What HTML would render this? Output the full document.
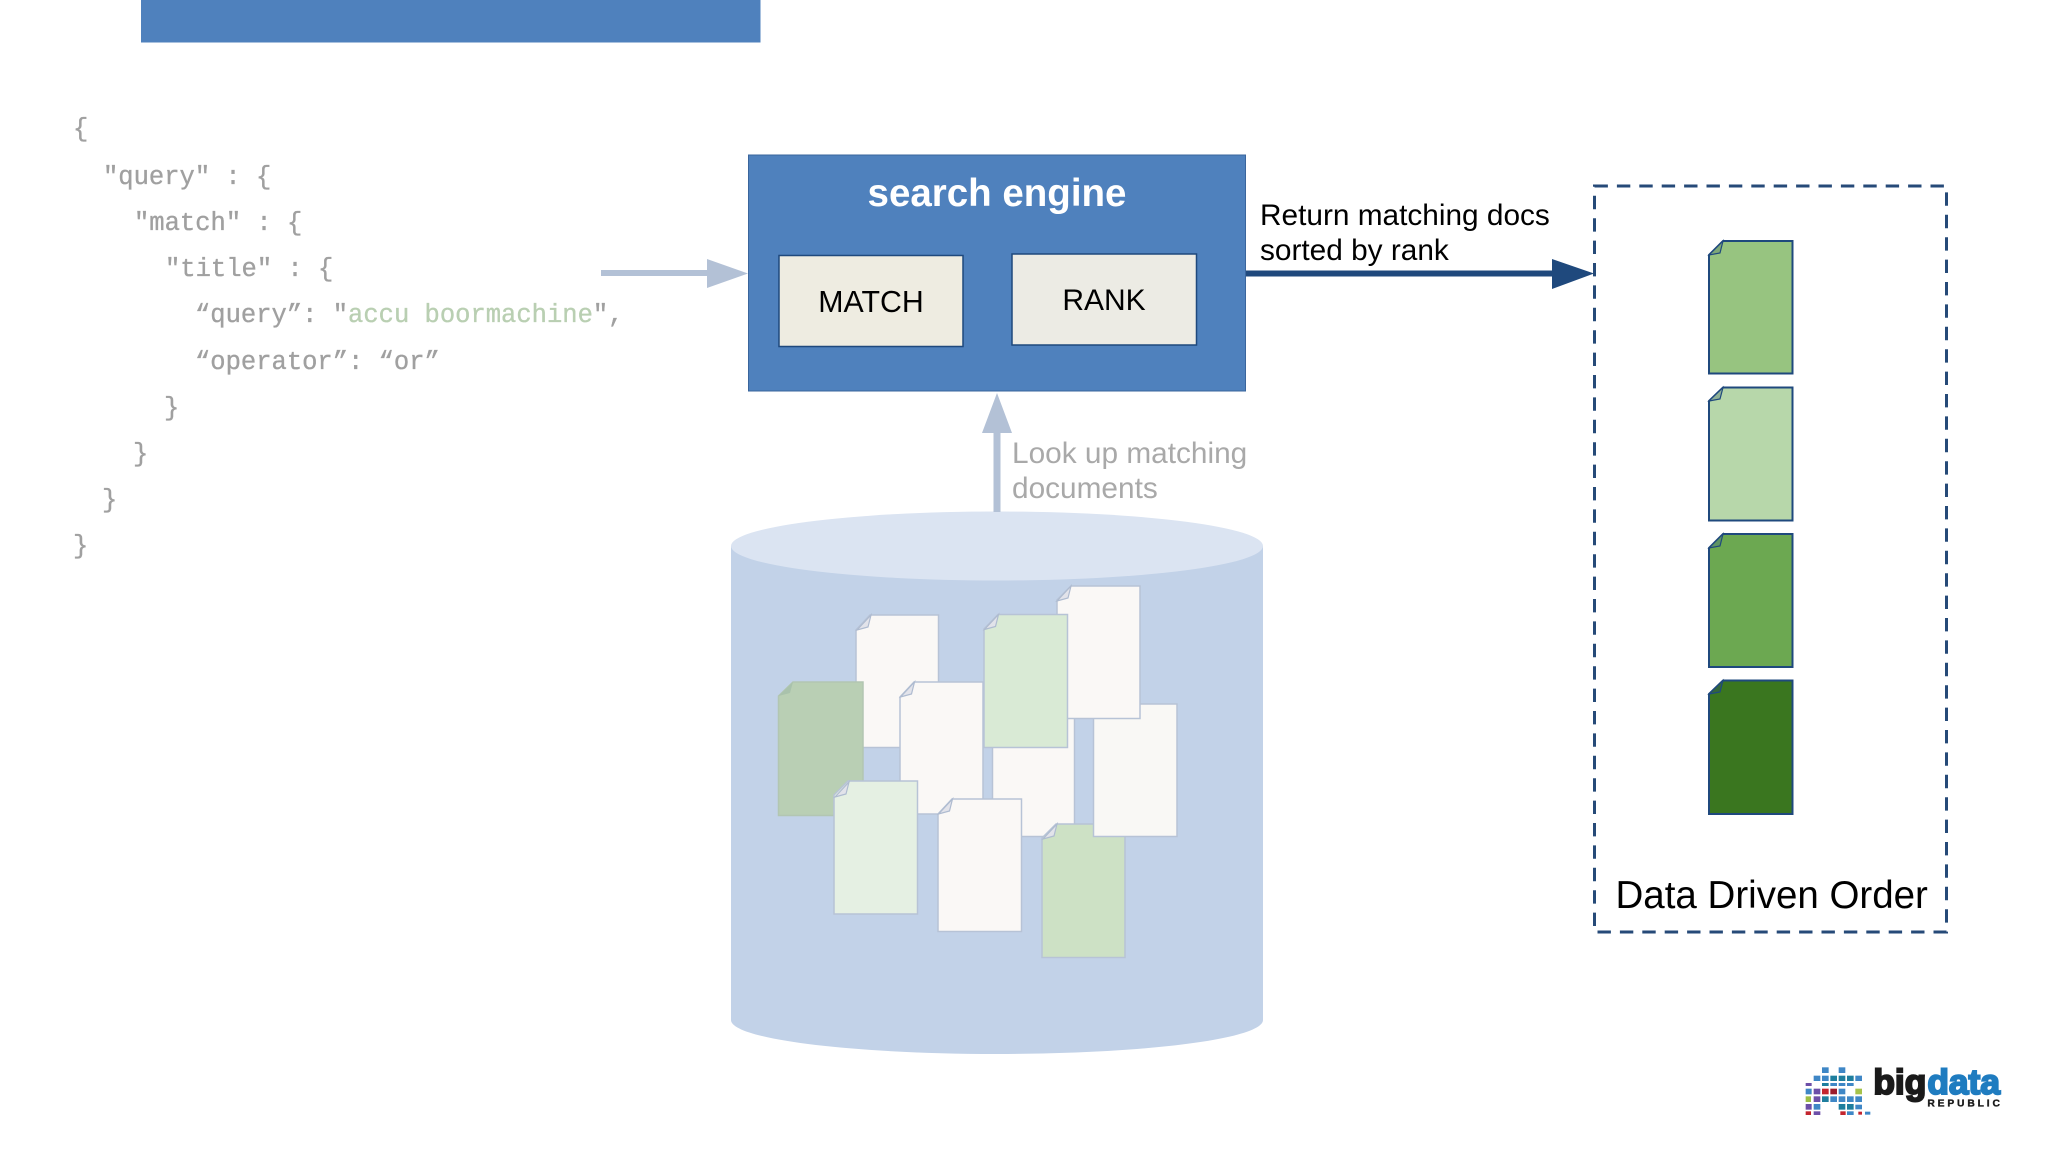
<!DOCTYPE html>
<html><head><meta charset="utf-8"><style>
html,body{margin:0;padding:0;background:#fff;width:2048px;height:1152px;overflow:hidden}
svg{display:block}
text{font-family:"Liberation Sans",sans-serif}
.c{font-family:"Liberation Mono",monospace;font-size:25.5px;fill:#a0a0a0;font-weight:400;stroke:#a0a0a0;stroke-width:.35px}
.c tspan.g{fill:#b9cfb2;stroke:#b9cfb2}
</style></head><body>
<svg width="2048" height="1152" viewBox="0 0 2048 1152" xmlns="http://www.w3.org/2000/svg">
<defs>
<g id="fold"><path d="M0 15L14 0L11 12Z" fill="#e2e3ea" stroke="#aebbd0" stroke-width="1.2"/></g>
</defs>
<rect width="2048" height="1152" fill="#fff"/>
<rect x="141" y="0" width="619.5" height="42.5" fill="#4f81bd"/>

<text class="c" x="73" y="136">{</text>
<text class="c" x="103" y="184">"query" : {</text>
<text class="c" x="134" y="230">"match" : {</text>
<text class="c" x="165" y="276">"title" : {</text>
<text class="c" x="195" y="322">“query”: "<tspan class="g">accu boormachine</tspan>",</text>
<text class="c" x="195" y="369">“operator”: “or”</text>
<text class="c" x="164" y="415">}</text>
<text class="c" x="133" y="461">}</text>
<text class="c" x="102" y="507">}</text>
<text class="c" x="73" y="553">}</text>

<rect x="601" y="270" width="108" height="6" fill="#b3c1d6"/>
<path d="M707 259L748 273.5L707 288Z" fill="#b3c1d6"/>

<rect x="748.5" y="155" width="497" height="236" fill="#4f81bd" stroke="#3a659c" stroke-width="1"/>
<text x="997" y="206" text-anchor="middle" font-size="38.5" font-weight="700" fill="#fff">search engine</text>
<rect x="779" y="255.5" width="184" height="91" fill="#eeece1" stroke="#1f497d" stroke-width="1.5"/>
<text x="871" y="312" text-anchor="middle" font-size="30.3" fill="#000">MATCH</text>
<rect x="1012" y="254" width="184.5" height="91" fill="#ecebe4" stroke="#1f497d" stroke-width="1.5"/>
<text x="1104" y="310" text-anchor="middle" font-size="30" fill="#000">RANK</text>

<rect x="1246" y="270.5" width="308" height="6" fill="#1f497d"/>
<path d="M1552 259L1594 273.5L1552 289Z" fill="#1f497d"/>
<text x="1260" y="225" font-size="29.8" fill="#000">Return matching docs</text>
<text x="1260" y="260" font-size="29.8" fill="#000">sorted by rank</text>

<path d="M731 546V1020C731 1039 850 1054 997 1054C1144 1054 1263 1039 1263 1020V546Z" fill="#c2d2e8"/>
<ellipse cx="997" cy="546" rx="266" ry="34.5" fill="#dbe4f2"/>
<rect x="993.5" y="432" width="7" height="80" fill="#b3c1d6"/>
<path d="M997 393L1012 433H982Z" fill="#b3c1d6"/>
<text x="1012" y="463" font-size="29.8" fill="#a9a9a9">Look up matching</text>
<text x="1012" y="498" font-size="29.8" fill="#a9a9a9">documents</text>

<g stroke="#b7c3d6" stroke-width="1.5">
<path d="M856 630L870 615H938.5V747.5H856Z" fill="#faf8f6"/><use href="#fold" x="857" y="615"/>
<path d="M778.5 696L793 682H863V815.5H778.5Z" fill="#b9cfb4" stroke="#b2c6b2"/>
<path d="M778.5 696L793 682L790 693Z" fill="#a9c2ac" stroke="none"/>
<path d="M992.5 720L1006 704H1074.5V836.5H992.5Z" fill="#faf8f6"/>
<path d="M1042 838L1056 824H1125V957.5H1042Z" fill="#cde1c5"/><use href="#fold" x="1043" y="824"/>
<rect x="1093.5" y="704" width="83.5" height="132.5" fill="#f9f8f5"/>
<path d="M1057 600L1071 586H1140V718.5H1057Z" fill="#faf8f6"/><use href="#fold" x="1057" y="586"/>
<path d="M984 629L998 614.5H1067.5V747.5H984Z" fill="#d9ead5"/><use href="#fold" x="984.5" y="614.5"/>
<path d="M900 697L914 682H983V814H900Z" fill="#faf8f6"/><use href="#fold" x="900.5" y="682"/>
<path d="M834 795L848 781H917.5V914H834Z" fill="#e5f0e3"/><use href="#fold" x="835" y="782"/>
<path d="M938 814L952 799H1021.5V931.5H938Z" fill="#faf8f6"/><use href="#fold" x="938.5" y="799"/>
</g>

<rect x="1594.5" y="186" width="352" height="746" fill="none" stroke="#264a78" stroke-width="3" stroke-dasharray="13.4 9"/>

<g stroke="#1f497d" stroke-width="2">
<path d="M1709 255L1723 241H1792.5V373.5H1709Z" fill="#97c480"/>
<path d="M1709 401L1723 387.5H1792.5V520.5H1709Z" fill="#b7d7aa"/>
<path d="M1709 548L1723 534H1792.5V667H1709Z" fill="#6ca851"/>
<path d="M1709 694L1723 680.5H1792.5V814H1709Z" fill="#3a761f"/>
</g>
<g stroke="#1f497d" stroke-width="1.2">
<path d="M1709 255L1723 241L1720 253Z" fill="#7ea877"/>
<path d="M1709 401L1723 387.5L1720 399Z" fill="#8fb096"/>
<path d="M1709 548L1723 534L1720 546Z" fill="#5f9464"/>
<path d="M1709 694L1723 680.5L1720 692Z" fill="#33663a"/>
</g>
<text x="1615.5" y="908" font-size="38.5" fill="#000">Data Driven Order</text>

<g transform="translate(1790 1050) scale(.3333)">
<g fill="#3f87c6" stroke="#3f87c6" stroke-width="2">
<rect x="97" y="53" width="18" height="15"/><rect x="147" y="53" width="18" height="15"/>
<rect x="72" y="78" width="18" height="14"/><rect x="97" y="78" width="18" height="14"/><rect x="197" y="78" width="18" height="14"/>
<rect x="48" y="117" width="16" height="15"/><rect x="147" y="117" width="18" height="15"/>
<rect x="122" y="140" width="18" height="15"/><rect x="147" y="140" width="18" height="15"/><rect x="172" y="140" width="18" height="15"/><rect x="197" y="140" width="18" height="15"/>
<rect x="72" y="163" width="18" height="15"/><rect x="197" y="165" width="18" height="12"/>
<rect x="172" y="185" width="18" height="9"/><rect x="226" y="186" width="14" height="7"/>
<rect x="122" y="100" width="18" height="7"/><rect x="147" y="100" width="18" height="7"/><rect x="172" y="100" width="18" height="7"/>
</g>
<g fill="#1e7e9e" stroke="#1e7e9e" stroke-width="2">
<rect x="122" y="78" width="18" height="14"/><rect x="147" y="78" width="18" height="14"/><rect x="172" y="78" width="18" height="14"/>
<rect x="97" y="100" width="18" height="7"/><rect x="97" y="140" width="18" height="15"/>
<rect x="147" y="163" width="18" height="15"/><rect x="172" y="163" width="18" height="15"/>
</g>
<g fill="#6d4fa8" stroke="#6d4fa8" stroke-width="2">
<rect x="48" y="100" width="16" height="7"/><rect x="72" y="117" width="18" height="15"/><rect x="72" y="140" width="18" height="15"/>
<rect x="48" y="163" width="16" height="15"/><rect x="72" y="185" width="18" height="9"/>
</g>
<g fill="#c3252f" stroke="#c3252f" stroke-width="2">
<rect x="97" y="117" width="18" height="15"/><rect x="48" y="185" width="14" height="9"/><rect x="152" y="185" width="14" height="9"/><rect x="206" y="186" width="9" height="7"/>
</g>
<rect x="122" y="117" width="18" height="15" fill="#9c1c2c" stroke="#9c1c2c" stroke-width="2"/>
<rect x="197" y="117" width="18" height="15" fill="#a6c34a" stroke="#a6c34a" stroke-width="2"/>
<rect x="48" y="140" width="14" height="15" fill="#9dbf45" stroke="#9dbf45" stroke-width="2"/>
<text x="250" y="132" font-size="106" font-weight="700" fill="#1a1a1a" stroke="#1a1a1a" stroke-width="6">big</text>
<text x="412" y="132" font-size="106" font-weight="700" fill="#1f7cc0" stroke="#1f7cc0" stroke-width="6" textLength="218" lengthAdjust="spacingAndGlyphs">data</text>
<text x="412" y="170" font-size="31" font-weight="700" fill="#1a1a1a" stroke="#1a1a1a" stroke-width="1" textLength="218">REPUBLIC</text>
</g>
</svg>
</body></html>
